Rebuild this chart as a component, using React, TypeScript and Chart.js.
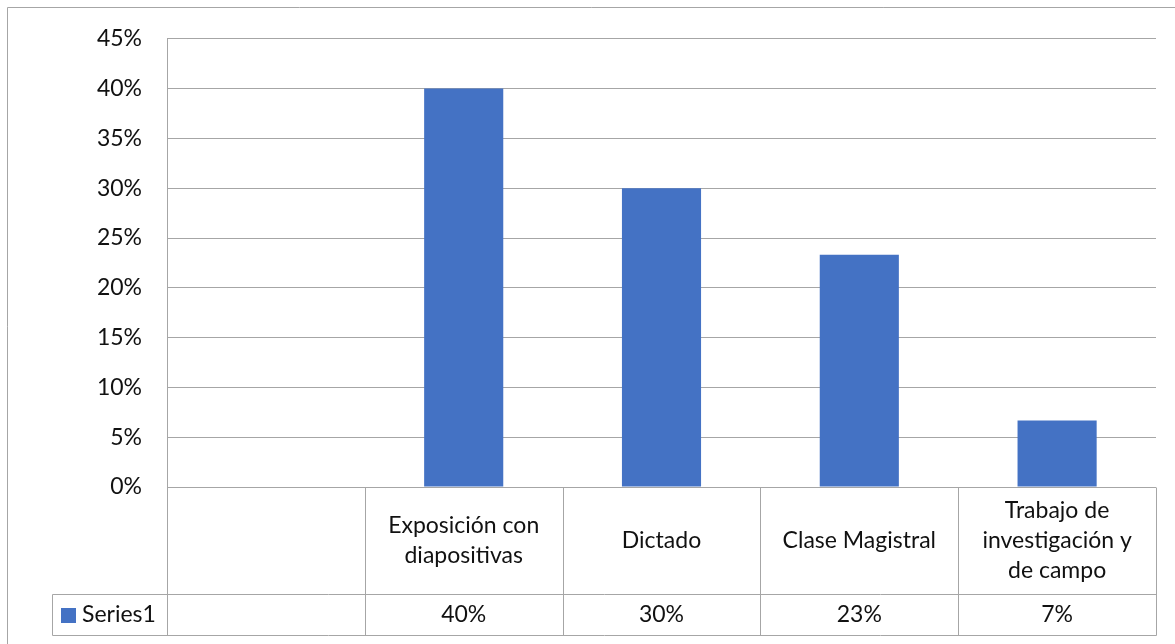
import React, { useEffect, useRef } from "react";
import { Chart, registerables } from "chart.js";

Chart.register(...registerables);

const categories: string[][] = [
  [""],
  ["Exposición con", "diapositivas"],
  ["Dictado"],
  ["Clase Magistral"],
  ["Trabajo de", "investigación y", "de campo"],
];
const seriesName = "Series1";
const seriesValues: (number | null)[] = [null, 0.4, 0.3, 0.2333, 0.0667];
const tableValues: string[] = ["", "40%", "30%", "23%", "7%"];
const yMin = 0;
const yMax = 0.45;
const yStep = 0.05;

const FONT = "Lato, 'Open Sans', sans-serif";
const FONT_SIZE = 23;
const BAR_COLOR = "#4472C4";
const LINE_COLOR = "#a6a6a6";
const TEXT_COLOR = "#111111";

const tablePlugin = {
  id: "dataTable",
  afterDraw(chart: any) {
    const { ctx, chartArea, scales } = chart;
    const xs = scales.x;
    const n = categories.length;
    const left = chartArea.left;
    const right = chartArea.right;
    const top = chartArea.bottom;
    const colW = (right - left) / n;
    const row1Bottom = top + 107;
    const row2Bottom = top + 148;
    const legendLeft = 52;
    const px = (v: number) => Math.round(v) + 0.5;

    ctx.save();
    ctx.strokeStyle = LINE_COLOR;
    ctx.lineWidth = 1;
    ctx.beginPath();
    // outer chart border
    ctx.rect(7.5, 7.5, chart.width + 20, chart.height + 20);
    // vertical column boundaries
    for (let i = 0; i <= n; i++) {
      const bx = px(left + i * colW);
      ctx.moveTo(bx, px(top));
      ctx.lineTo(bx, px(row2Bottom));
    }
    // horizontal rows
    ctx.moveTo(px(legendLeft), px(row1Bottom));
    ctx.lineTo(px(right), px(row1Bottom));
    ctx.moveTo(px(legendLeft), px(row2Bottom));
    ctx.lineTo(px(right), px(row2Bottom));
    ctx.moveTo(px(legendLeft), px(row1Bottom));
    ctx.lineTo(px(legendLeft), px(row2Bottom));
    ctx.stroke();

    ctx.fillStyle = TEXT_COLOR;
    ctx.font = `${FONT_SIZE}px ${FONT}`;
    ctx.textAlign = "center";
    ctx.textBaseline = "middle";
    const lineH = 30;
    const midRow1 = (top + row1Bottom) / 2;
    const midRow2 = (row1Bottom + row2Bottom) / 2;
    for (let i = 0; i < n; i++) {
      const cx = xs.getPixelForValue(i);
      const lines = categories[i];
      const startY = midRow1 - ((lines.length - 1) * lineH) / 2;
      lines.forEach((ln, j) => ctx.fillText(ln, cx, startY + j * lineH));
      ctx.fillText(tableValues[i], cx, midRow2);
    }
    // legend key
    ctx.fillStyle = BAR_COLOR;
    ctx.fillRect(61, Math.round(midRow2) - 7, 15, 15);
    ctx.fillStyle = TEXT_COLOR;
    ctx.textAlign = "left";
    ctx.fillText(seriesName, 82, midRow2);
    ctx.restore();
  },
};

export default function App() {
  const ref = useRef<HTMLCanvasElement>(null);
  useEffect(() => {
    if (!ref.current) return;
    const chart = new Chart(ref.current, {
      type: "bar",
      data: {
        labels: categories.map((c) => c.join(" ")),
        datasets: [
          {
            label: seriesName,
            data: seriesValues,
            backgroundColor: BAR_COLOR,
            barPercentage: 0.4,
            categoryPercentage: 1.0,
          },
        ],
      },
      options: {
        responsive: false,
        animation: false,
        layout: { padding: { top: 37, right: 19, bottom: 157, left: 0 } },
        plugins: { legend: { display: false }, tooltip: { enabled: false } },
        scales: {
          x: { display: false },
          y: {
            min: yMin,
            max: yMax,
            afterFit: (s: any) => {
              s.width = 167;
            },
            ticks: {
              stepSize: yStep,
              padding: 25,
              color: TEXT_COLOR,
              font: { family: FONT, size: FONT_SIZE },
              callback: (v: any) => Math.round(Number(v) * 100) + "%",
            },
            grid: { color: LINE_COLOR, drawTicks: false, lineWidth: 1 },
            border: { display: true, color: LINE_COLOR },
          },
        },
      },
      plugins: [tablePlugin],
    });
    return () => chart.destroy();
  }, []);
  return (
    <div style={{ position: "absolute", left: 0, top: 0, width: 1175, height: 644, background: "#fff" }}>
      <canvas ref={ref} width={1175} height={644} style={{ display: "block" }} />
    </div>
  );
}
